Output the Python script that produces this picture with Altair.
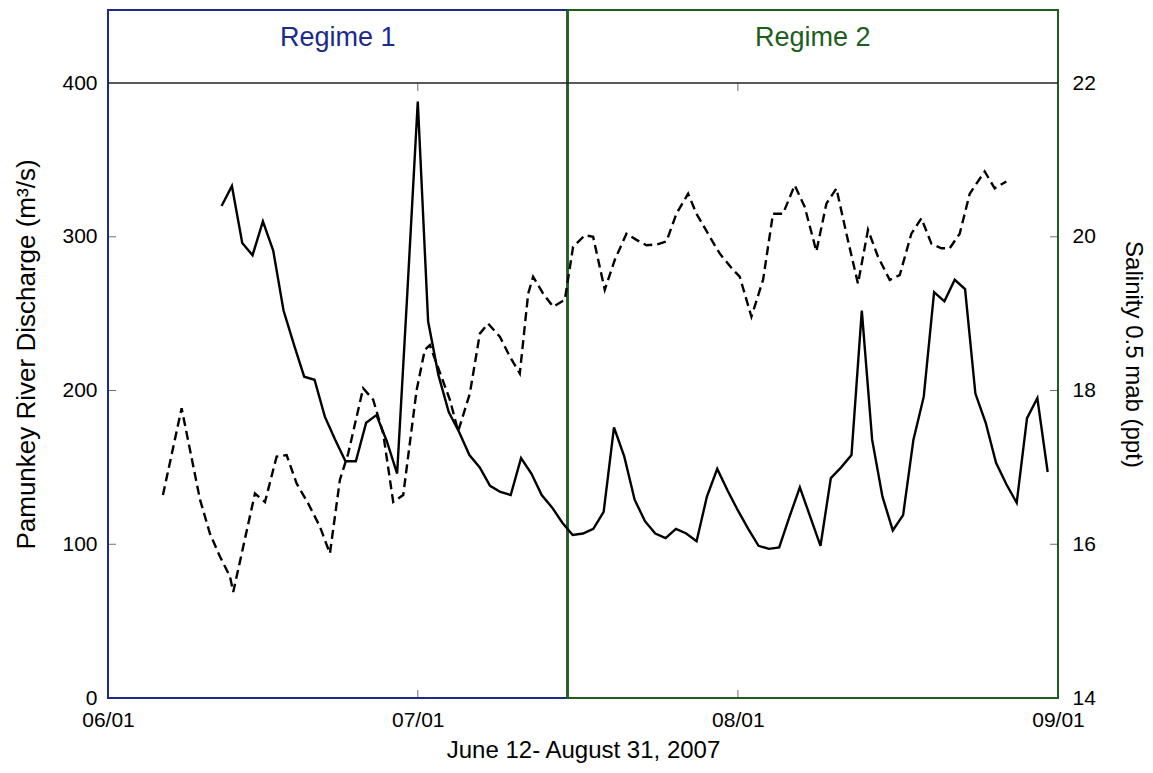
import altair as alt
import pandas as pd

# ---------------- data ----------------
disc_start = "2007-06-12"
discharge = [320, 333, 296, 288, 310, 291, 252, 230, 209, 207,
             183, 168, 154, 154, 179, 184, 167, 146, 265, 388,
             245, 210, 186, 173, 158, 150, 138, 134, 132, 156,
             146, 132, 124, 114, 106, 107, 110, 121, 176, 157,
             129, 115, 107, 104, 110, 107, 102, 131, 149, 135,
             122, 110, 99, 97, 98, 118, 137, 118, 99, 143,
             150, 158, 252, 168, 131, 109, 119, 168, 196, 264,
             258, 272, 266, 198, 179, 153, 139, 127, 182, 195, 147]

# salinity sample times (days after 2007-06-01 00:00) and values (ppt)
sal_day = [5.32, 7.13, 8.91, 9.87, 10.84, 11.81, 12.13, 14.23, 15.2, 16.33,
           17.3, 18.27, 19.39, 20.52, 21.49, 22.46, 23.26, 24.08, 24.71, 25.68,
           26.65, 27.62, 28.59, 29.88, 30.68, 31.17, 33.11, 33.91, 35.04, 36.01,
           36.81, 37.95, 38.92, 39.88, 40.69, 41.17, 42.14, 43.11, 44.24, 45.04,
           46.18, 46.98, 48.11, 49.08, 50.21, 51.18, 52.15, 53.15, 54.08, 55.05,
           56.18, 56.99, 58.28, 59.25, 60.53, 61.18, 62.31, 63.44, 64.40, 65.37,
           66.50, 67.47, 68.60, 69.57, 70.54, 71.51, 72.63, 73.60, 74.57, 75.70,
           76.67, 77.80, 78.77, 79.74, 80.71, 81.51, 82.48, 83.45, 84.90, 85.87, 87.00]
salinity = [16.64, 17.77, 16.58, 16.14, 15.84, 15.58, 15.38, 16.66, 16.55, 17.14,
            17.16, 16.79, 16.53, 16.23, 15.88, 16.84, 17.18, 17.66, 18.03, 17.88,
            17.44, 16.55, 16.64, 18.00, 18.53, 18.59, 17.88, 17.47, 17.96, 18.74,
            18.87, 18.70, 18.44, 18.22, 19.26, 19.48, 19.26, 19.09, 19.18, 19.87,
            20.02, 20.00, 19.31, 19.70, 20.04, 19.96, 19.89, 19.90, 19.94, 20.30,
            20.56, 20.30, 20.00, 19.78, 19.57, 19.48, 18.96, 19.44, 20.30, 20.30,
            20.67, 20.39, 19.81, 20.43, 20.63, 20.04, 19.39, 20.09, 19.74, 19.44,
            19.50, 20.04, 20.24, 19.91, 19.85, 19.85, 20.04, 20.56, 20.85, 20.63, 20.72]

regime_names = ["Regime 1", "Regime 2"]
regime_start = ["2007-06-01T00:00:00", "2007-07-15T12:00:00"]
regime_end = ["2007-07-15T12:00:00", "2007-09-01T00:00:00"]
regime_colors = ["#1b2a8c", "#1d5e1d"]

left_ticks = [0, 100, 200, 300, 400]
right_ticks = [14, 16, 18, 20, 22]
inner_x_ticks = ["2007-07-01T00:00:00", "2007-08-01T00:00:00"]

LEFT_MAX = 447.5      # top of the regime band on the discharge scale
RIGHT_MIN, RIGHT_MAX = 14, 22.95
FONT = "Liberation Sans"

# ---------------- tables ----------------
base = pd.Timestamp("2007-06-01")
disc_df = pd.DataFrame({"date": pd.date_range(disc_start, periods=len(discharge), freq="D"),
                        "q": discharge})
sal_df = pd.DataFrame({"date": [base + pd.Timedelta(days=d) for d in sal_day],
                       "s": salinity})
reg_df = pd.DataFrame({"name": regime_names,
                       "start": pd.to_datetime(regime_start),
                       "end": pd.to_datetime(regime_end),
                       "color": regime_colors})
reg_df["mid"] = reg_df["start"] + (reg_df["end"] - reg_df["start"]) / 2
reg_df["y0"] = 0
reg_df["y1"] = LEFT_MAX
reg_df["ylab"] = 429
line_df = pd.DataFrame({"start": [base], "end": [pd.Timestamp("2007-09-01")], "y": [400]})
lt_df = pd.DataFrame({"v": left_ticks[1:-1]})
rt_df = pd.DataFrame({"v": right_ticks[1:-1]})
xt_df = pd.DataFrame({"date": pd.to_datetime(inner_x_ticks), "y": 400})

xscale = alt.Scale(domain=[alt.DateTime(year=2007, month=6, date=1),
                           alt.DateTime(year=2007, month=9, date=1)])
xaxis = alt.Axis(values=[alt.DateTime(year=2007, month=m, date=1) for m in (6, 7, 8, 9)],
                 format="%m/%d", title="June 12- August 31, 2007", ticks=False,
                 domain=False, grid=False, labelFontSize=21, titleFontSize=24,
                 labelFlush=False, labelPadding=11, titlePadding=8,
                 titleFontWeight="normal",
                 labelColor="black", titleColor="black", labelFont=FONT, titleFont=FONT)
lscale = alt.Scale(domain=[0, LEFT_MAX], nice=False, zero=False)
lyaxis = alt.Axis(values=left_ticks, title="Pamunkey River Discharge (m³/s)",
                  ticks=False, domain=False, grid=False, labelFontSize=21,
                  titleFontSize=26, labelPadding=11, titlePadding=22,
                  titleFontWeight="normal", labelColor="black", titleColor="black",
                  labelFont=FONT, titleFont=FONT)
rscale = alt.Scale(domain=[RIGHT_MIN, RIGHT_MAX], nice=False, zero=False)
ryaxis = alt.Axis(values=right_ticks, orient="right", title="Salinity 0.5 mab (ppt)",
                  ticks=False, domain=False, grid=False, labelFontSize=21,
                  titleFontSize=24, labelPadding=14, titlePadding=25,
                  titleFontWeight="normal", labelColor="black", titleColor="black",
                  labelFont=FONT, titleFont=FONT)

X = lambda f: alt.X(f, type="temporal", scale=xscale, axis=xaxis)

rects = alt.Chart(reg_df).mark_rect(fillOpacity=0, strokeWidth=2).encode(
    x=X("start"), x2="end",
    y=alt.Y("y0:Q", scale=lscale, axis=lyaxis), y2="y1",
    stroke=alt.Color("color:N", scale=None))

divider = alt.Chart(reg_df.iloc[[1]]).mark_rule(strokeWidth=2.4).encode(
    x=X("start"), y=alt.Y("y0:Q", scale=lscale), y2="y1",
    color=alt.Color("color:N", scale=None))

rule400 = alt.Chart(line_df).mark_rule(color="#222222", strokeWidth=1.5).encode(
    x=X("start"), x2="end", y=alt.Y("y:Q", scale=lscale))

labels = alt.Chart(reg_df).mark_text(fontSize=27, font=FONT).encode(
    x=X("mid"), y=alt.Y("ylab:Q", scale=lscale),
    text="name:N", color=alt.Color("color:N", scale=None))

lticks = alt.Chart(lt_df).mark_tick(orient="horizontal", size=8, thickness=1,
                                    color="#333333").encode(
    y=alt.Y("v:Q", scale=lscale), x=alt.value(4))

xticks_bottom = alt.Chart(xt_df).mark_tick(orient="vertical", size=8, thickness=1,
                                           color="#333333").encode(
    x=X("date"), y=alt.value(684))
xticks_top = alt.Chart(xt_df).mark_tick(orient="vertical", size=8, thickness=1,
                                        color="#333333").encode(
    x=X("date"), y=alt.Y("y:Q", scale=lscale), yOffset=alt.value(4))

disc_line = alt.Chart(disc_df).mark_line(color="black", strokeWidth=2.4).encode(
    x=X("date"), y=alt.Y("q:Q", scale=lscale))

left = alt.layer(rects, divider, rule400, labels, lticks, xticks_bottom, xticks_top,
                 disc_line)

sal_line = alt.Chart(sal_df).mark_line(color="black", strokeWidth=2.4,
                                       strokeDash=[9, 5]).encode(
    x=X("date"), y=alt.Y("s:Q", scale=rscale, axis=ryaxis))
rticks = alt.Chart(rt_df).mark_tick(orient="horizontal", size=8, thickness=1,
                                    color="#333333").encode(
    y=alt.Y("v:Q", scale=rscale, axis=ryaxis), x=alt.value(946))
right = alt.layer(sal_line, rticks)

chart = alt.layer(left, right).resolve_scale(y="independent").properties(
    width=950, height=688,
    autosize=alt.AutoSizeParams(type="none"),
    padding={"left": 108, "top": 10, "right": 95, "bottom": 75},
).configure_view(stroke=None).configure(background="white")

chart.save("out.html", embed_options={"renderer": "svg", "actions": False})
